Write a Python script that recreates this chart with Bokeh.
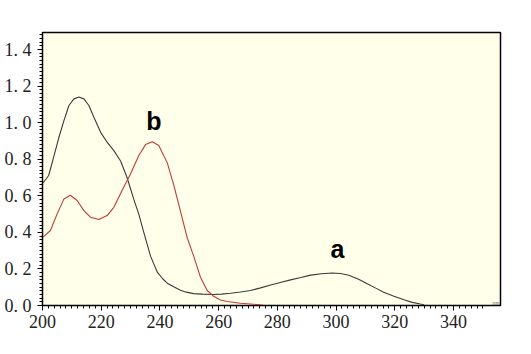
from bokeh.plotting import figure
from bokeh.models import Range1d, FixedTicker, Label, CustomJSTickFormatter
from bokeh.embed import file_html
from bokeh.resources import INLINE

# Curve a (black)
wl_a = [200, 200.4, 202.1, 203.8, 205.6, 207.3, 209, 210.7, 212.4, 214.1, 215.8, 217.5,
        219.8, 222, 224.3, 226.6, 228.8, 231.1, 232.8, 234.5, 236.8, 239.1, 241,
        242.5, 244.7, 247, 249, 251.5, 254.5, 258.3, 261, 264, 267.5, 270.8, 274,
        277.7, 281, 284.5, 288, 291.3, 295, 298.7, 301.5, 304.3, 307.5, 310.6, 313.5,
        316.2, 319.5, 323.1, 326, 328.7, 330]
abs_a = [0.67, 0.674, 0.711, 0.811, 0.92, 1.011, 1.094, 1.13, 1.14, 1.13, 1.094, 1.03,
         0.947, 0.893, 0.847, 0.79, 0.70, 0.58, 0.50, 0.40, 0.27, 0.182, 0.145,
         0.122, 0.102, 0.083, 0.073, 0.065, 0.062, 0.060, 0.062, 0.067, 0.074, 0.082, 0.095,
         0.112, 0.126, 0.14, 0.153, 0.166, 0.174, 0.178, 0.175, 0.165, 0.145, 0.119, 0.095,
         0.073, 0.052, 0.031, 0.017, 0.008, 0.004]

# Curve b (red)
wl_b = [200, 200.4, 202.7, 205, 207.3, 209.5, 211.8, 214.1, 216.3, 219.2, 222, 224.3,
        227.1, 230, 232.8, 235.1, 237.4, 239.6, 242.5, 244.7, 247, 249.3, 251.5, 253.8,
        256.1, 258.3, 260.6, 262.9, 267.4, 270.8, 275]
abs_b = [0.375, 0.377, 0.41, 0.501, 0.583, 0.603, 0.574, 0.519, 0.483, 0.470, 0.492, 0.537,
         0.629, 0.72, 0.82, 0.88, 0.895, 0.875, 0.78, 0.66, 0.515, 0.37, 0.27, 0.155,
         0.082, 0.05, 0.03, 0.022, 0.012, 0.008, 0.002]

x_ticks = [200, 220, 240, 260, 280, 300, 320, 340]
y_ticks = [0.0, 0.2, 0.4, 0.6, 0.8, 1.0, 1.2, 1.4]
y_tick_labels = ["0. 0", "0. 2", "0. 4", "0. 6", "0. 8", "1. 0", "1. 2", "1. 4"]

p = figure(width=531, height=354, output_backend="svg", toolbar_location=None,
           x_range=Range1d(200, 356), y_range=Range1d(0, 1.493),
           min_border_left=42, min_border_right=31, min_border_top=32, min_border_bottom=49)

p.background_fill_color = "#FFFFEA"
p.border_fill_color = "white"
p.outline_line_color = "black"
p.outline_line_width = 1.5
p.grid.visible = False

for ax in (p.xaxis[0], p.yaxis[0]):
    ax.axis_line_color = "black"
    ax.major_tick_line_color = "black"
    ax.minor_tick_line_color = "black"
    ax.major_tick_out = 5
    ax.major_tick_in = 0
    ax.minor_tick_out = 3
    ax.minor_tick_in = 0
    ax.major_label_text_font = "Liberation Serif"
    ax.major_label_text_font_size = "18px"
    ax.major_label_text_color = "#222222"

p.xaxis.ticker = FixedTicker(ticks=x_ticks,
                             minor_ticks=[200 + 2 * i for i in range(76)])
p.yaxis.ticker = FixedTicker(ticks=y_ticks,
                             minor_ticks=[round(0.02 * i, 2) for i in range(75)])
p.yaxis.formatter = CustomJSTickFormatter(
    args=dict(yt=y_ticks, yl=y_tick_labels),
    code="""
    for (let i = 0; i < yt.length; i++) {
        if (Math.abs(yt[i] - tick) < 1e-6) { return yl[i]; }
    }
    return "";
    """)
p.xaxis.major_label_standoff = 4
p.yaxis.major_label_standoff = 6

p.line(wl_a, abs_a, line_color="#3a3a3a", line_width=1.1)
p.line(wl_b, abs_b, line_color="#c03a3a", line_width=1.1)

p.add_layout(Label(x=237.9, y=1.01, text="b", text_font="Liberation Sans",
                   text_font_style="bold", text_font_size="25px",
                   text_align="center", text_baseline="middle", text_color="black"))
p.add_layout(Label(x=300.5, y=0.31, text="a", text_font="Liberation Sans",
                   text_font_style="bold", text_font_size="25px",
                   text_align="center", text_baseline="middle", text_color="black"))
p.add_layout(Label(x=354.5, y=0.0, text="nm", text_font="Liberation Sans",
                   text_font_size="5px", text_align="center", text_baseline="bottom",
                   text_color="#555555"))

open("out.html", "w").write(file_html(p, INLINE))
